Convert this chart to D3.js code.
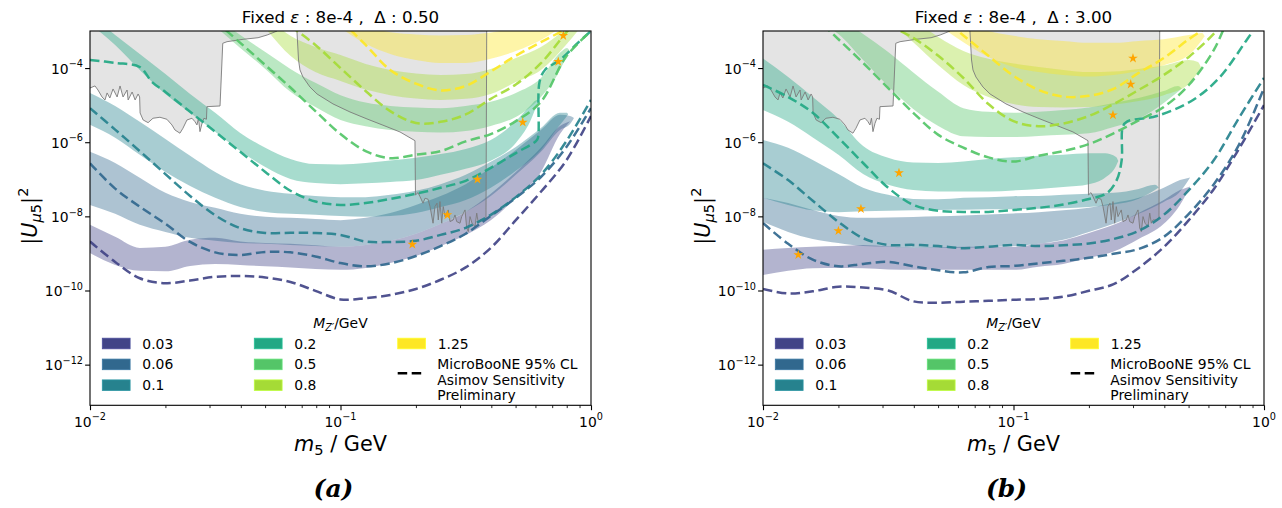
<!DOCTYPE html>
<html><head><meta charset="utf-8">
<script src="https://cdn.jsdelivr.net/npm/d3@7"></script>
<style>
body{margin:0;background:#fff}
svg{display:block}
text{font-family:'DejaVu Sans',sans-serif;fill:#000}
</style>
</head><body>
<svg id="fig" width="1282" height="508"></svg>
<script>
// ---------- data ----------
const mZprime = [0.03, 0.06, 0.1, 0.2, 0.5, 0.8, 1.25];
const mZlabels = ['0.03', '0.06', '0.1', '0.2', '0.5', '0.8', '1.25'];
const palette = ['#414487', '#31688e', '#26828e', '#22a884', '#54c568', '#a5db36', '#fde725'];
const xTicks = [0.01, 0.1, 1];
const yTicks = [1e-4, 1e-6, 1e-8, 1e-10, 1e-12];
const m5Grid = [0.01, 0.0126, 0.0158, 0.02, 0.0251, 0.0316, 0.0398, 0.0501, 0.0631, 0.0794, 0.1,
  0.126, 0.158, 0.2, 0.251, 0.316, 0.398, 0.501, 0.631, 0.794, 1.0];

// existing exclusion limits [m5, |U|^2] (lower boundary of excluded region)
const limitLow = [[0.01,2.9e-5],[0.01047,3.3e-5],[0.01076,2.56e-5],[0.01117,1.66e-5],[0.01148,1.38e-5],[0.0117,2.13e-5],
  [0.012,1.56e-5],[0.01236,2.73e-5],[0.01283,1.66e-5],[0.01318,3.29e-5],[0.01355,1.66e-5],[0.01406,2.56e-5],[0.0142,1.38e-5],
  [0.01473,2.26e-5],[0.01514,1.38e-5],[0.01556,2.0e-5],[0.01578,1.66e-5],[0.01585,6.15e-6],[0.0163,3.98e-6],[0.01706,3.37e-6],
  [0.01784,4.43e-6],[0.01902,4.71e-6],[0.02027,4.16e-6],[0.02124,2.92e-6],[0.02183,2.14e-6],[0.02286,1.75e-6],[0.0235,2.38e-6],
  [0.02438,3.98e-6],[0.02553,4.43e-6],[0.02624,3.59e-6],[0.02673,2.92e-6],[0.0271,4.43e-6],[0.02748,1.93e-6],[0.028,3.24e-6],
  [0.0285,4.43e-6],[0.02917,4.16e-6],[0.0293,9.1e-6],[0.03304,9.5e-6],[0.03388,4.66e-4],[0.03524,5.15e-4],[0.04084,5.97e-4],
  [0.04688,6.59e-4],[0.05093,7.8e-4],[0.05584,1e-3]];
const limitHigh = [[0.0670,1e-3],[0.0680,1.65e-4],[0.0689,8.9e-5],[0.0708,5.75e-5],[0.0755,3.09e-5],[0.0806,2.0e-5],
  [0.0933,1.08e-5],[0.1091,6.55e-6],[0.1276,4.24e-6],[0.1505,2.74e-6],[0.1728,1.89e-6],[0.1983,1.10e-6],[0.1992,3.78e-8],
  [0.2039,4.36e-8],[0.2077,3.40e-8],[0.2135,2.26e-8],[0.2175,3.08e-8],[0.2236,2.90e-8],[0.2277,1.83e-8],[0.2341,6.53e-9],
  [0.2383,1.83e-8],[0.2427,2.26e-8],[0.2457,8.0e-9],[0.2495,2.50e-8],[0.2535,6.53e-9],[0.2572,1.83e-8],[0.2613,9.84e-9],
  [0.2693,1.49e-8],[0.2736,7.22e-9],[0.2820,8.0e-9],[0.2865,1.09e-8],[0.2910,7.22e-9],[0.2999,6.53e-9],[0.3047,9.84e-9],
  [0.3141,1.49e-8],[0.3191,4.80e-9],[0.3238,3.88e-9],[0.3289,9.84e-9],[0.3350,6.53e-9],[0.3443,5.30e-9],[0.3498,1.22e-8],
  [0.3549,6.53e-9],[0.3605,8.0e-9],[0.3716,8.0e-9],[0.3809,8.9e-9],[0.3834,1e-3]];

// ---- Delta = 0.50 : signal regions [m5, upper, lower] ----
const regionA003 = [[0.01,5.9e-9,1.02e-9],[0.0126,2.8e-9,4.9e-10],[0.0158,1.41e-9,3.4e-10],[0.02,1.51e-9,3.3e-10],
  [0.0251,2.34e-9,4.6e-10],[0.0316,2.63e-9,5.2e-10],[0.0398,2.09e-9,4.9e-10],[0.0501,1.91e-9,4.5e-10],[0.0631,1.82e-9,4.2e-10],
  [0.0794,1.66e-9,3.8e-10],[0.1,1.51e-9,3.6e-10],[0.126,1.70e-9,4.07e-10],[0.158,2.19e-9,5.5e-10],[0.2,3.4e-9,8.5e-10],
  [0.251,6.3e-9,1.58e-9],[0.316,1.32e-8,3.16e-9],[0.398,4.07e-8,7.9e-9],[0.501,1.58e-7,3.16e-8],[0.631,7.1e-7,1.58e-7],
  [0.752,2.75e-6,1.66e-6],[0.825,3.7e-6,3.7e-6]];
const regionA006 = [[0.01,5.5e-7,2.04e-8],[0.0126,2.75e-7,1.17e-8],[0.0158,1.10e-7,5.9e-9],[0.02,4.3e-8,3.8e-9],
  [0.0251,2.45e-8,2.63e-9],[0.0316,1.70e-8,2.19e-9],[0.0398,1.17e-8,1.91e-9],[0.0501,9.8e-9,1.82e-9],[0.0631,9.1e-9,1.70e-9],
  [0.0794,8.5e-9,1.58e-9],[0.1,7.9e-9,1.51e-9],[0.126,9.1e-9,1.70e-9],[0.158,1.23e-8,2.19e-9],[0.2,2.04e-8,3.4e-9],
  [0.251,3.55e-8,6.3e-9],[0.316,7.4e-8,1.32e-8],[0.398,2.04e-7,3.55e-8],[0.501,6.2e-7,1.32e-7],[0.631,2.14e-6,5.5e-7],
  [0.752,5.5e-6,2.14e-6],[0.825,5.1e-6,3.1e-6],[0.855,4.5e-6,4.5e-6]];
const regionA01 = [[0.01,2.14e-5,2.95e-6],[0.0126,9.5e-6,1.32e-6],[0.0158,3.55e-6,4.6e-7],[0.02,1.23e-6,1.58e-7],
  [0.0251,4.3e-7,6.6e-8],[0.0316,1.58e-7,3.16e-8],[0.0398,7.4e-8,1.78e-8],[0.0501,4.9e-8,1.32e-8],[0.0631,4.07e-8,1.17e-8],
  [0.0794,3.55e-8,1.10e-8],[0.1,3.3e-8,1.02e-8],[0.126,3.3e-8,9.8e-9],[0.158,3.8e-8,1.02e-8],[0.2,4.9e-8,1.23e-8],
  [0.251,7.4e-8,1.78e-8],[0.316,1.32e-7,2.75e-8],[0.398,2.95e-7,5.9e-8],[0.501,7.4e-7,1.70e-7],[0.631,2.4e-6,6.2e-7],
  [0.752,6.2e-6,2.95e-6],[0.802,6.2e-6,5.1e-6],[0.81,5.6e-6,5.6e-6]];
const regionA02 = [[0.01,2.9e-3,1.55e-3],[0.0126,7.8e-4,4.2e-4],[0.0158,2.4e-4,8.9e-5],[0.02,6.9e-5,2.0e-5],
  [0.0251,2.0e-5,6.2e-6],[0.0316,6.2e-6,1.91e-6],[0.0398,1.78e-6,5.75e-7],[0.0501,7.1e-7,2.14e-7],[0.0631,3.55e-7,1.02e-7],
  [0.0794,2.57e-7,7.9e-8],[0.1,2.51e-7,7.4e-8],[0.126,2.75e-7,7.8e-8],[0.158,3.2e-7,8.5e-8],[0.2,3.8e-7,9.5e-8],
  [0.251,4.8e-7,1.32e-7],[0.316,6.6e-7,1.91e-7],[0.398,1.15e-6,3.16e-7],[0.501,3.7e-6,9.5e-7],[0.571,9.5e-6,3.55e-6],
  [0.609,1.38e-5,9.5e-6],[0.626,1.15e-5,1.15e-5]];
const regionA05 = [[0.0316,2.4e-3,1.35e-3],[0.0398,7.8e-4,3.5e-4],[0.0501,2.7e-4,9.5e-5],[0.0631,9.5e-5,2.29e-5],
  [0.0794,4.0e-5,8.9e-6],[0.1,1.86e-5,4.0e-6],[0.126,1.17e-5,2.7e-6],[0.158,9.5e-6,2.14e-6],[0.2,8.7e-6,1.91e-6],
  [0.251,8.3e-6,1.82e-6],[0.316,9.5e-6,2.0e-6],[0.398,1.23e-5,2.75e-6],[0.501,2.14e-5,4.8e-6],[0.631,5.4e-5,1.66e-5],
  [0.752,2.57e-4,8.9e-5],[0.802,3.5e-4,2.24e-4],[0.817,3.1e-4,3.1e-4]];
const regionA08 = [[0.0501,2.7e-3,1.2e-3],[0.0631,7.4e-4,2.14e-4],[0.0794,3.7e-4,7.8e-5],[0.1,2.24e-4,4.5e-5],
  [0.126,1.29e-4,2.63e-5],[0.158,8.9e-5,1.86e-5],[0.2,7.1e-5,1.51e-5],[0.251,6.5e-5,1.38e-5],[0.316,6.9e-5,1.48e-5],
  [0.398,9.5e-5,2.0e-5],[0.501,1.86e-4,4.2e-5],[0.631,3.7e-4,8.9e-5],[0.794,1.12e-3,4.2e-4],[0.904,2.0e-3,1.2e-3]];
const regionA125 = [[0.0794,1.0e-2,3.0e-3],[0.1,3.2e-3,1.2e-3],[0.126,1.35e-3,4.5e-4],[0.158,9.3e-4,2.4e-4],
  [0.2,8.1e-4,1.66e-4],[0.251,7.6e-4,1.38e-4],[0.316,7.8e-4,1.38e-4],[0.398,9.1e-4,1.78e-4],[0.501,1.23e-3,2.88e-4],
  [0.631,2.24e-3,5.75e-4],[0.794,5.0e-3,1.55e-3]];

// ---- Delta = 0.50 : sensitivity curves ----
const sensA003 = [2.09e-9,5.9e-10,2.14e-10,1.58e-10,1.86e-10,2.34e-10,2.46e-10,2.24e-10,1.70e-10,9.8e-11,5.75e-11,
  6.2e-11,7.6e-11,1.10e-10,1.95e-10,4.2e-10,1.41e-9,7.9e-9,4.6e-8,3.1e-7,5.1e-6];
const sensA006 = [2.7e-7,5.6e-8,1.82e-8,6.3e-9,2.04e-9,1.07e-9,9.1e-10,1.10e-9,1.07e-9,8.3e-10,5.5e-10,
  4.5e-10,5.4e-10,8.5e-10,1.58e-9,3.4e-9,1.03e-8,3.16e-8,1.15e-7,7.1e-7,8.3e-6];
const sensA01 = [8.3e-6,2.19e-6,5.75e-7,1.38e-7,3.55e-8,1.07e-8,4.8e-9,3.55e-9,3.6e-9,3.55e-9,3.16e-9,
  2.09e-9,2.04e-9,2.19e-9,3.16e-9,4.9e-9,1.10e-8,3.3e-8,1.32e-7,1.02e-6,1.38e-5];
const sensA02 = [[0.01,1.66e-4],[0.0126,1.38e-4],[0.0158,1.07e-4],[0.0177,4.2e-5],[0.02,2.26e-5],[0.0251,6.6e-6],
  [0.0316,1.91e-6],[0.0398,5.5e-7],[0.0501,1.58e-7],[0.0631,4.9e-8],[0.0794,2.51e-8],[0.1,2.04e-8],[0.126,2.29e-8],
  [0.158,2.95e-8],[0.2,4.07e-8],[0.251,5.9e-8],[0.316,9.1e-8],[0.398,2.04e-7],[0.501,5.1e-7],[0.603,1.07e-6],
  [0.614,1.3e-6],[0.623,4.2e-5],[0.655,8.9e-5],[0.752,1.66e-4],[0.877,4.47e-4],[1.0,1.0e-3]];
const sensA05 = [[0.0316,1.86e-3],[0.0398,4.8e-4],[0.0501,1.20e-4],[0.0631,3.0e-5],[0.0794,6.9e-6],[0.1,1.66e-6],
  [0.126,5.75e-7],[0.158,3.7e-7],[0.2,4.6e-7],[0.251,5.75e-7],[0.316,1.05e-6],[0.398,1.66e-6],[0.501,3.7e-6],
  [0.631,1.23e-5],[0.794,2.0e-4],[1.0,1e-3]];
const sensA08 = [[0.0631,1.35e-3],[0.0794,4.2e-4],[0.1,1.0e-4],[0.126,2.4e-5],[0.158,6.9e-6],[0.2,3.3e-6],
  [0.251,3.55e-6],[0.316,5.6e-6],[0.398,1.48e-5],[0.501,3.6e-5],[0.631,1.35e-4],[0.794,8.9e-4],[0.88,2.0e-3]];
const sensA125 = [[0.1,2.0e-3],[0.126,4.2e-4],[0.158,8.9e-5],[0.2,3.8e-5],[0.251,2.5e-5],[0.316,3.3e-5],
  [0.398,8.1e-5],[0.501,2.14e-4],[0.631,5.0e-4],[0.794,1.12e-3]];
const pointsA = [[0.1935,1.75e-9],[0.267,1.09e-8],[0.352,1.0e-7],[0.534,3.45e-6],[0.740,1.49e-4],[0.775,7.47e-4]];

// ---- Delta = 3.00 : signal regions [m5, upper, lower] ----
const regionB003 = [[0.01,1.26e-9,2.63e-10],[0.0126,1.41e-9,3.4e-10],[0.0158,1.51e-9,4.0e-10],[0.02,1.58e-9,4.07e-10],
  [0.0251,1.70e-9,4.0e-10],[0.0316,1.55e-9,3.7e-10],[0.0398,1.41e-9,3.6e-10],[0.0501,1.45e-9,3.6e-10],[0.0631,1.51e-9,3.6e-10],
  [0.0794,1.51e-9,3.6e-10],[0.1,1.51e-9,3.6e-10],[0.126,1.82e-9,4.4e-10],[0.158,2.24e-9,5.2e-10],[0.2,3.55e-9,7.6e-10],
  [0.251,5.9e-9,1.12e-9],[0.316,1.23e-8,2.45e-9],[0.398,2.75e-8,6.3e-9],[0.462,5.1e-8,2.04e-8],[0.507,6.4e-8,6.4e-8]];
const regionB006 = [[0.01,3.16e-8,7.1e-9],[0.0126,2.29e-8,3.8e-9],[0.0158,1.48e-8,2.45e-9],[0.02,1.02e-8,1.91e-9],
  [0.0251,9.1e-9,1.58e-9],[0.0316,9.3e-9,1.51e-9],[0.0398,9.6e-9,1.41e-9],[0.0501,1.0e-8,1.41e-9],[0.0631,1.05e-8,1.41e-9],
  [0.0794,1.12e-8,1.51e-9],[0.1,1.2e-8,1.58e-9],[0.126,1.3e-8,1.82e-9],[0.158,1.45e-8,2.34e-9],[0.2,1.7e-8,3.8e-9],
  [0.251,2.3e-8,6.3e-9],[0.316,3.16e-8,1.17e-8],[0.398,5.9e-8,2.45e-8],[0.462,9.5e-8,4.6e-8],[0.507,1.12e-7,1.12e-7]];
const regionB01 = [[0.01,1.15e-6,3.16e-8],[0.0126,7.1e-7,2.04e-8],[0.0158,3.3e-7,1.45e-8],[0.02,1.38e-7,1.3e-8],
  [0.0251,5.9e-8,1.38e-8],[0.0316,3.8e-8,1.41e-8],[0.0398,2.95e-8,1.45e-8],[0.0501,2.88e-8,1.48e-8],[0.0631,3.16e-8,1.5e-8],
  [0.0794,3.3e-8,1.55e-8],[0.1,3.5e-8,1.55e-8],[0.126,3.55e-8,1.6e-8],[0.158,3.8e-8,1.66e-8],[0.2,4.07e-8,1.8e-8],
  [0.251,4.3e-8,2.1e-8],[0.316,5.5e-8,3.0e-8],[0.367,7.1e-8,5.1e-8],[0.38,6.0e-8,6.0e-8]];
const regionB02 = [[0.01,1.82e-4,7.4e-6],[0.0126,5.75e-5,3.55e-6],[0.0158,1.66e-5,1.35e-6],[0.02,4.3e-6,4.6e-7],
  [0.0251,7.9e-7,1.38e-7],[0.0316,3.8e-7,7.1e-8],[0.0398,2.82e-7,5.1e-8],[0.0501,2.75e-7,4.7e-8],[0.0631,3.0e-7,4.7e-8],
  [0.0794,3.5e-7,4.7e-8],[0.1,3.9e-7,5.0e-8],[0.126,4.3e-7,5.5e-8],[0.158,4.6e-7,6.2e-8],[0.2,5.0e-7,7.4e-8],
  [0.2318,5.0e-7,1.10e-7],[0.2566,4.0e-7,2.29e-7],[0.262,3.1e-7,3.1e-7]];
const regionB05 = [[0.0158,3.7e-3,2.0e-3],[0.02,2.24e-3,8.3e-4],[0.0251,8.3e-4,1.66e-4],[0.0316,2.7e-4,3.3e-5],
  [0.0398,7.6e-5,7.9e-6],[0.0501,2.29e-5,2.75e-6],[0.0631,8.3e-6,1.45e-6],[0.0794,6.6e-6,1.38e-6],[0.1,6.2e-6,1.38e-6],
  [0.126,6.6e-6,1.48e-6],[0.158,7.4e-6,1.58e-6],[0.2,8.7e-6,1.74e-6],[0.251,1.15e-5,2.57e-6],[0.316,1.55e-5,4.3e-6],
  [0.398,2.4e-5,1.15e-5],[0.4536,3.3e-5,2.29e-5],[0.47,2.8e-5,2.8e-5]];
const regionB08 = [[0.0316,5.0e-3,2.0e-3],[0.0398,2.0e-3,5.0e-4],[0.0501,6.9e-4,1.20e-4],[0.0631,2.88e-4,3.5e-5],
  [0.0794,1.78e-4,1.66e-5],[0.1,1.32e-4,1.07e-5],[0.126,1.07e-4,8.9e-6],[0.158,8.9e-5,8.7e-6],[0.2,7.8e-5,8.9e-6],
  [0.251,8.1e-5,1.02e-5],[0.316,9.5e-5,1.29e-5],[0.398,1.17e-4,1.86e-5],[0.501,1.66e-4,3.7e-5],[0.5452,1.45e-4,7.8e-5],
  [0.56,1.05e-4,1.05e-4]];
const regionB125 = [[0.0501,3.7e-3,1.45e-3],[0.0631,1.74e-3,5.0e-4],[0.0794,1.0e-3,2.0e-4],[0.1,7.4e-4,1.07e-4],
  [0.126,6.0e-4,7.8e-5],[0.158,5.4e-4,6.5e-5],[0.2,4.8e-4,5.9e-5],[0.251,4.8e-4,6.5e-5],[0.316,5.4e-4,8.3e-5],
  [0.398,6.0e-4,1.20e-4],[0.501,7.8e-4,2.24e-4],[0.5655,8.9e-4,5.75e-4],[0.58,7.2e-4,7.2e-4]];

// ---- Delta = 3.00 : sensitivity curves ----
const sensB003 = [1.10e-10,8.3e-11,9.5e-11,1.26e-10,1.20e-10,1.0e-10,5.1e-11,4.7e-11,5.0e-11,5.25e-11,5.6e-11,
  5.9e-11,6.8e-11,9.8e-11,1.48e-10,4.07e-10,1.48e-9,7.9e-9,5.5e-8,6.6e-7,1.0e-5];
const sensB006 = [6.6e-9,1.82e-9,6.8e-10,4.5e-10,5.2e-10,5.9e-10,4.5e-10,3.5e-10,3.1e-10,4.3e-10,4.6e-10,
  5.4e-10,6.3e-10,7.6e-10,9.8e-10,1.32e-9,2.8e-9,1.17e-8,7.4e-8,8.5e-7,2.9e-5];
const sensB01 = [2.7e-7,9.5e-8,2.63e-8,7.1e-9,2.57e-9,1.70e-9,1.70e-9,1.58e-9,1.38e-9,1.51e-9,1.70e-9,
  1.58e-9,1.66e-9,1.86e-9,2.45e-9,4.07e-9,1.10e-8,5.1e-8,3.3e-7,4.5e-6,5.4e-5];
const sensB02 = [[0.01,3.5e-5],[0.0126,1.66e-5],[0.0158,6.2e-6],[0.02,1.32e-6],[0.0251,2.75e-7],[0.0316,5.9e-8],
  [0.0398,2.04e-8],[0.0501,1.41e-8],[0.0631,1.32e-8],[0.0794,1.32e-8],[0.1,1.48e-8],[0.126,1.70e-8],[0.158,2.09e-8],
  [0.2,2.95e-8],[0.2355,4.17e-8],[0.2582,9.5e-8],[0.2703,3.3e-7],[0.2729,2.57e-6],[0.2839,3.6e-6],[0.373,5.1e-6],
  [0.5207,1.38e-5],[0.6673,5.75e-5],[0.8529,5.75e-4],[0.904,1.0e-3]];
const sensB05 = [[0.0158,2.7e-3],[0.02,6.0e-4],[0.0251,1.38e-4],[0.0316,2.9e-5],[0.0398,6.2e-6],[0.0501,1.58e-6],
  [0.0631,7.1e-7],[0.0794,3.9e-7],[0.1,3.0e-7],[0.126,4.3e-7],[0.158,5.75e-7],[0.2,8.9e-7],[0.251,1.74e-6],
  [0.316,3.9e-6],[0.398,8.9e-6],[0.501,3.5e-5],[0.631,3.1e-4],[0.70,1.45e-3]];
const sensB08 = [[0.0316,1.45e-3],[0.0398,6.5e-4],[0.0501,2.14e-4],[0.0631,5.4e-5],[0.0794,1.07e-5],[0.1,3.7e-6],
  [0.126,2.7e-6],[0.158,3.2e-6],[0.2,5.1e-6],[0.251,1.07e-5],[0.316,2.57e-5],[0.398,6.5e-5],[0.501,2.0e-4],
  [0.631,8.5e-4],[0.70,2.0e-3]];
const sensB125 = [[0.0501,2.7e-3],[0.0631,7.6e-4],[0.0794,2.14e-4],[0.1,6.2e-5],[0.126,2.57e-5],[0.158,1.70e-5],
  [0.2,1.78e-5],[0.251,2.75e-5],[0.316,7.4e-5],[0.398,1.86e-4],[0.501,6.0e-4],[0.609,1.45e-3]];
const pointsB = [[0.01383,9.15e-10],[0.02,4.06e-9],[0.0246,1.59e-8],[0.0349,1.48e-7],[0.2495,5.43e-6],[0.2937,3.66e-5],[0.2999,1.84e-4]];

// ---------- drawing ----------
const onGrid = vals => vals.map((v, i) => [m5Grid[i], v]);
const panels = [
  { id: 'a', x0: 90, x1: 591, delta: '0.50', caption: '(a)',
    regions: [regionA003, regionA006, regionA01, regionA02, regionA05, regionA08, regionA125],
    curves: [onGrid(sensA003), onGrid(sensA006), onGrid(sensA01), sensA02, sensA05, sensA08, sensA125],
    points: pointsA },
  { id: 'b', x0: 763, x1: 1264, delta: '3.00', caption: '(b)',
    regions: [regionB003, regionB006, regionB01, regionB02, regionB05, regionB08, regionB125],
    curves: [onGrid(sensB003), onGrid(sensB006), onGrid(sensB01), sensB02, sensB05, sensB08, sensB125],
    points: pointsB }
];
const plotTop = 31, plotBottom = 405.3;
const svg = d3.select('#fig');
const defs = svg.append('defs');

panels.forEach(p => {
  const x = d3.scaleLog().domain([0.01, 1]).range([p.x0, p.x1]);
  const y = d3.scaleLog().domain([8e-14, 1e-3]).range([plotBottom, plotTop]);
  const g = svg.append('g');
  defs.append('clipPath').attr('id', 'clip-' + p.id).append('rect')
    .attr('x', p.x0).attr('y', plotTop).attr('width', p.x1 - p.x0).attr('height', plotBottom - plotTop);
  const plot = g.append('g').attr('clip-path', `url(#clip-${p.id})`);
  const line = d3.line().x(d => x(d[0])).y(d => y(d[1]));

  // excluded regions
  [limitLow, limitHigh].forEach(c => {
    const poly = c.concat([[c[c.length - 1][0], 1e-2], [c[0][0], 1e-2]]);
    plot.append('path').attr('d', line(poly) + 'Z').attr('fill', '#d3d3d3').attr('fill-opacity', 0.62);
  });

  // signal regions
  const area = d3.area().x(d => x(d[0])).y0(d => y(d[2])).y1(d => y(d[1])).curve(d3.curveMonotoneX);
  p.regions.forEach((r, i) => {
    plot.append('path').attr('d', area(r)).attr('fill', palette[i]).attr('fill-opacity', 0.4);
  });

  // outlines of excluded regions
  [limitLow, limitHigh].forEach(c => {
    plot.append('path').attr('d', line(c)).attr('fill', 'none').attr('stroke', '#7a7a7a').attr('stroke-width', 0.9);
  });

  // sensitivity curves
  const curve = d3.line().x(d => x(d[0])).y(d => y(d[1])).curve(d3.curveCatmullRom.alpha(0.5));
  p.curves.forEach((c, i) => {
    plot.append('path').attr('d', curve(c)).attr('fill', 'none').attr('stroke', palette[i])
      .attr('stroke-opacity', 0.92).attr('stroke-width', 2.5).attr('stroke-dasharray', '9.5,4.5');
  });

  // benchmark points
  plot.selectAll('path.pt').data(p.points).join('path').attr('class', 'pt')
    .attr('d', d3.symbol(d3.symbolStar, 30))
    .attr('transform', d => `translate(${x(d[0])},${y(d[1])})`)
    .attr('fill', '#ffa500');

  // axes frame
  g.append('rect').attr('x', p.x0).attr('y', plotTop).attr('width', p.x1 - p.x0).attr('height', plotBottom - plotTop)
    .attr('fill', 'none').attr('stroke', '#000').attr('stroke-width', 1.1);

  // x ticks
  const minor = [];
  [0.01, 0.1].forEach(d => { for (let k = 2; k <= 9; k++) minor.push(d * k); });
  g.append('g').attr('transform', `translate(0,${plotBottom})`)
    .call(d3.axisBottom(x).tickValues(minor).tickSize(2.8).tickFormat(''))
    .call(a => { a.select('.domain').remove(); a.selectAll('line').attr('stroke-width', 0.85); });
  g.append('g').attr('transform', `translate(0,${plotBottom})`)
    .call(d3.axisBottom(x).tickValues(xTicks).tickSize(4.9).tickFormat(''))
    .call(a => { a.select('.domain').remove(); a.selectAll('line').attr('stroke-width', 1.1); });
  g.append('g').attr('transform', `translate(${p.x0},0)`)
    .call(d3.axisLeft(y).tickValues(yTicks).tickSize(4.9).tickFormat(''))
    .call(a => { a.select('.domain').remove(); a.selectAll('line').attr('stroke-width', 1.1); });

  const expLabel = (sel, v) => {
    const e = Math.round(Math.log10(v));
    sel.append('tspan').text('10');
    sel.append('tspan').attr('font-size', 9.7).attr('dy', -6.3).text(e < 0 ? '\u2212' + (-e) : String(e));
  };
  xTicks.forEach(v => {
    const t = g.append('text').attr('x', x(v)).attr('y', plotBottom + 21.2).attr('text-anchor', 'middle').attr('font-size', 13.9);
    expLabel(t, v);
  });
  yTicks.forEach(v => {
    const t = g.append('text').attr('x', p.x0 - 7).attr('y', y(v) + 5.5).attr('text-anchor', 'end').attr('font-size', 13.9);
    expLabel(t, v);
  });

  const cx = (p.x0 + p.x1) / 2;
  // title
  const tt = g.append('text').attr('x', cx).attr('y', 22.5).attr('text-anchor', 'middle')
    .attr('font-size', 16.7).style('white-space', 'pre');
  tt.append('tspan').text('Fixed ');
  tt.append('tspan').attr('font-style', 'italic').text('\u03b5');
  tt.append('tspan').text(' : 8e-4 ,  \u0394 : ' + p.delta);

  // x label
  const xl = g.append('text').attr('x', cx).attr('y', 451).attr('text-anchor', 'middle').attr('font-size', 20.8)
    .style('white-space', 'pre');
  xl.append('tspan').attr('font-style', 'italic').text('m');
  xl.append('tspan').attr('font-size', 14.6).attr('dy', 4.2).text('5');
  xl.append('tspan').attr('dy', -4.2).text(' / GeV');

  // y label
  const ly = (plotTop + plotBottom) / 2 - 2;
  const yl = g.append('text').attr('transform', `translate(${p.x0 - 53},${ly}) rotate(-90)`)
    .attr('text-anchor', 'middle').attr('font-size', 20.8);
  yl.append('tspan').text('|');
  yl.append('tspan').attr('font-style', 'italic').text('U');
  yl.append('tspan').attr('font-size', 14.6).attr('dy', 4.2).attr('font-style', 'italic').text('\u03bc');
  yl.append('tspan').attr('font-size', 14.6).text('5');
  yl.append('tspan').attr('dy', -4.2).text('|');
  yl.append('tspan').attr('font-size', 14.6).attr('dy', -9).text('2');

  // caption
  g.append('text').attr('x', cx - 7).attr('y', 497).attr('text-anchor', 'middle')
    .attr('font-weight', 'bold').attr('font-style', 'italic')
    .attr('font-size', 25).style('font-family', "'DejaVu Serif',serif").text(p.caption);

  // legend
  const off = p.x0 - 90;
  const lg = g.append('g');
  const lt = lg.append('text').attr('x', 340.5 + off).attr('y', 327.5).attr('text-anchor', 'middle').attr('font-size', 13.9);
  lt.append('tspan').attr('font-style', 'italic').text('M');
  lt.append('tspan').attr('font-size', 9.7).attr('dy', 3).attr('font-style', 'italic').text('Z\u2032');
  lt.append('tspan').attr('dy', -3).text('/GeV');
  const colX = [102.3, 254.3, 397.7];
  const rowY = [343.5, 364.4, 385.2];
  mZprime.forEach((mz, i) => {
    const c = Math.floor(i / 3), r = i % 3;
    lg.append('rect').attr('x', colX[c] + off).attr('y', rowY[r] - 5.3).attr('width', 27.8).attr('height', 10.6)
      .attr('fill', palette[i]).attr('stroke', d3.color(palette[i]).brighter(0.4)).attr('stroke-width', 0.8);
    lg.append('text').attr('x', colX[c] + 40 + off).attr('y', rowY[r] + 5).attr('font-size', 13.9).text(mZlabels[i]);
  });
  lg.append('line').attr('x1', 397.7 + off).attr('x2', 425.5 + off).attr('y1', 373.3).attr('y2', 373.3)
    .attr('stroke', '#000').attr('stroke-width', 2.5).attr('stroke-dasharray', '9.5,4.5');
  ['MicroBooNE 95% CL', 'Asimov Sensitivity', 'Preliminary'].forEach((s, k) => {
    lg.append('text').attr('x', 437.3 + off).attr('y', 369.3 + k * 15.4).attr('font-size', 13.9).text(s);
  });
});
</script>
</body></html>
